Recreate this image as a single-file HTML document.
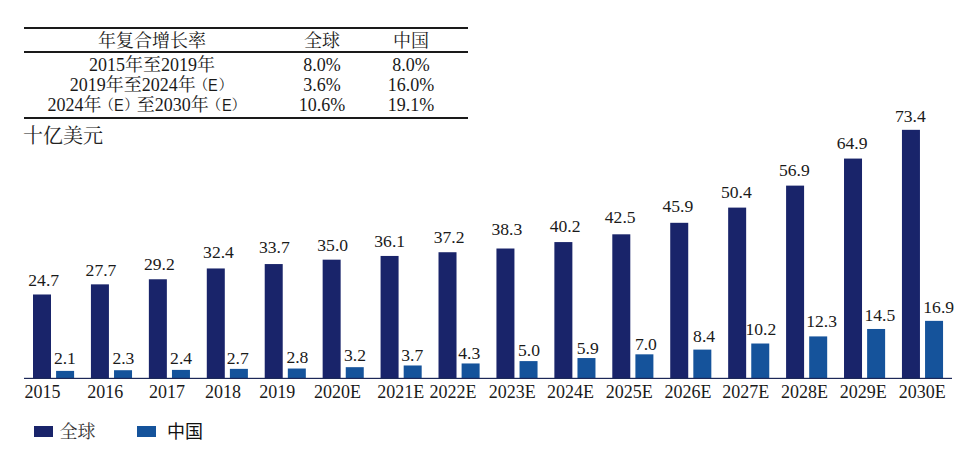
<!DOCTYPE html>
<html lang="zh-CN">
<head>
<meta charset="utf-8">
<title>年复合增长率</title>
<style>
html,body{margin:0;padding:0;background:#fff;}
body{width:963px;height:451px;position:relative;overflow:hidden;font-family:"Liberation Serif","Noto Serif CJK SC",serif;color:#1a1a1a;}
#cagr{position:absolute;left:24px;top:27px;width:444px;border-collapse:separate;border-spacing:0;border-top:2px solid #1a1a1a;border-bottom:2px solid #1a1a1a;font-size:18px;line-height:20px;text-align:center;table-layout:fixed;white-space:nowrap;}
#cagr th{font-weight:normal;height:20px;line-height:20px;padding:2px 0 0 0;border-bottom:2px solid #1a1a1a;}
#cagr td{padding:0;height:20px;}
#cagr tbody tr:first-child td{padding-top:2px;}
#cagr tbody tr:last-child td{padding-bottom:2px;}
#cagr .r2{position:relative;left:-1.7px;}
#cagr .r3{position:relative;left:-6.3px;}
#cagr .c1{width:256px;}
#cagr .c2{width:84px;}
#cagr .c3{width:104px;}
#cagr td:nth-child(3),#cagr th:nth-child(3){padding-right:10px;}
.e{font-family:"Liberation Sans","Noto Sans CJK SC",sans-serif;font-size:17.3px;line-height:1;display:inline-block;width:9.7px;transform:scaleX(0.84);transform-origin:0 50%;text-align:left;margin:0 0.3px 0 0.3px;}
.p{font-size:14.5px;line-height:1;position:relative;top:-0.8px;}
.pl{margin-left:-2px;}
.pr{margin-right:-2px;}
#unit{position:absolute;left:23px;top:122px;font-size:20px;line-height:28px;color:#222;white-space:nowrap;}
#chart{position:absolute;left:0;top:0;}
#legend{position:absolute;left:0;top:418px;height:26px;width:400px;font-size:18px;line-height:26px;}
#legend .sw{position:absolute;top:7.5px;width:19px;height:11.5px;}
#legend .lb{position:absolute;top:0.5px;white-space:nowrap;}
</style>
</head>
<body>
<table id="cagr">
<colgroup><col class="c1"><col class="c2"><col class="c3"></colgroup>
<thead><tr><th>年复合增长率</th><th>全球</th><th>中国</th></tr></thead>
<tbody>
<tr><td>2015年至2019年</td><td>8.0%</td><td>8.0%</td></tr>
<tr><td><span class="r2">2019年至2024年<span class="p pl">（</span><span class="e">E</span><span class="p pr">）</span></span></td><td>3.6%</td><td>16.0%</td></tr>
<tr><td><span class="r3">2024年<span class="p pl">（</span><span class="e">E</span><span class="p pr">）</span>至2030年<span class="p pl">（</span><span class="e">E</span><span class="p pr">）</span></span></td><td>10.6%</td><td>19.1%</td></tr>
</tbody>
</table>
<div id="unit">十亿美元</div>
<svg id="chart" width="963" height="451" viewBox="0 0 963 451" font-family="'Liberation Serif','Noto Serif CJK SC',serif" font-size="17.6" fill="#1a1a1a" text-anchor="middle">
<g fill="#19246a">
<rect x="33.00" y="294.49" width="18.0" height="83.51"/>
<rect x="90.93" y="284.35" width="18.0" height="93.65"/>
<rect x="148.86" y="279.27" width="18.0" height="98.73"/>
<rect x="206.79" y="268.46" width="18.0" height="109.54"/>
<rect x="264.72" y="264.06" width="18.0" height="113.94"/>
<rect x="322.65" y="259.67" width="18.0" height="118.33"/>
<rect x="380.58" y="255.95" width="18.0" height="122.05"/>
<rect x="438.51" y="252.23" width="18.0" height="125.77"/>
<rect x="496.44" y="248.51" width="18.0" height="129.49"/>
<rect x="554.37" y="242.08" width="18.0" height="135.92"/>
<rect x="612.30" y="234.31" width="18.0" height="143.69"/>
<rect x="670.23" y="222.81" width="18.0" height="155.19"/>
<rect x="728.16" y="207.60" width="18.0" height="170.40"/>
<rect x="786.09" y="185.62" width="18.0" height="192.38"/>
<rect x="844.02" y="158.57" width="18.0" height="219.43"/>
<rect x="901.95" y="129.83" width="18.0" height="248.17"/>
</g>
<g fill="#15539b">
<rect x="56.10" y="370.90" width="18.0" height="7.10"/>
<rect x="114.03" y="370.22" width="18.0" height="7.78"/>
<rect x="171.96" y="369.89" width="18.0" height="8.11"/>
<rect x="229.89" y="368.87" width="18.0" height="9.13"/>
<rect x="287.82" y="368.53" width="18.0" height="9.47"/>
<rect x="345.75" y="367.18" width="18.0" height="10.82"/>
<rect x="403.68" y="365.49" width="18.0" height="12.51"/>
<rect x="461.61" y="363.46" width="18.0" height="14.54"/>
<rect x="519.54" y="361.10" width="18.0" height="16.90"/>
<rect x="577.47" y="358.05" width="18.0" height="19.95"/>
<rect x="635.40" y="354.33" width="18.0" height="23.67"/>
<rect x="693.33" y="349.60" width="18.0" height="28.40"/>
<rect x="751.26" y="343.51" width="18.0" height="34.49"/>
<rect x="809.19" y="336.41" width="18.0" height="41.59"/>
<rect x="867.12" y="328.98" width="18.0" height="49.02"/>
<rect x="925.05" y="320.86" width="18.0" height="57.14"/>
</g>
<rect x="24" y="377.8" width="928" height="1.2" fill="#1c2858"/>
<g>
<text x="43.7" y="286.1">24.7</text>
<text x="101.0" y="275.6">27.7</text>
<text x="159.3" y="269.9">29.2</text>
<text x="218.5" y="258.1">32.4</text>
<text x="274.4" y="253.1">33.7</text>
<text x="332.7" y="251.1">35.0</text>
<text x="389.7" y="247.4">36.1</text>
<text x="449.1" y="243.2">37.2</text>
<text x="506.9" y="235.3">38.3</text>
<text x="565.1" y="232.3">40.2</text>
<text x="620.2" y="222.8">42.5</text>
<text x="677.9" y="211.9">45.9</text>
<text x="736.4" y="198.2">50.4</text>
<text x="794.4" y="175.6">56.9</text>
<text x="852.1" y="149.0">64.9</text>
<text x="910.3" y="122.4">73.4</text>
</g>
<g>
<text x="64.9" y="364.4">2.1</text>
<text x="123.4" y="364.4">2.3</text>
<text x="181.1" y="364.4">2.4</text>
<text x="237.7" y="363.6">2.7</text>
<text x="297.4" y="363.1">2.8</text>
<text x="355.0" y="360.6">3.2</text>
<text x="412.2" y="360.6">3.7</text>
<text x="469.3" y="359.4">4.3</text>
<text x="529.0" y="356.1">5.0</text>
<text x="587.8" y="353.6">5.9</text>
<text x="645.9" y="349.8">7.0</text>
<text x="704.1" y="342.4">8.4</text>
<text x="760.9" y="335.3">10.2</text>
<text x="821.6" y="327.4">12.3</text>
<text x="879.9" y="320.6">14.5</text>
<text x="938.7" y="313.1">16.9</text>
</g>
<g font-size="18">
<text x="42.4" y="398.0">2015</text>
<text x="105.3" y="398.0">2016</text>
<text x="167.0" y="398.0">2017</text>
<text x="223.1" y="398.0">2018</text>
<text x="277.2" y="398.0">2019</text>
<text x="337.5" y="398.0">2020E</text>
<text x="400.8" y="398.0">2021E</text>
<text x="452.9" y="398.0">2022E</text>
<text x="512.2" y="398.0">2023E</text>
<text x="570.6" y="398.0">2024E</text>
<text x="629.2" y="398.0">2025E</text>
<text x="687.9" y="398.0">2026E</text>
<text x="745.8" y="398.0">2027E</text>
<text x="804.5" y="398.0">2028E</text>
<text x="863.3" y="398.0">2029E</text>
<text x="922.2" y="398.0">2030E</text>
</g>
</svg>
<div id="legend">
<span class="sw" style="left:34px;background:#19246a"></span><span class="lb" style="left:59.5px;color:#333">全球</span>
<span class="sw" style="left:137px;background:#15539b"></span><span class="lb" style="left:167px;color:#111;font-family:'Liberation Sans','Noto Sans CJK SC',sans-serif">中国</span>
</div>
</body>
</html>
